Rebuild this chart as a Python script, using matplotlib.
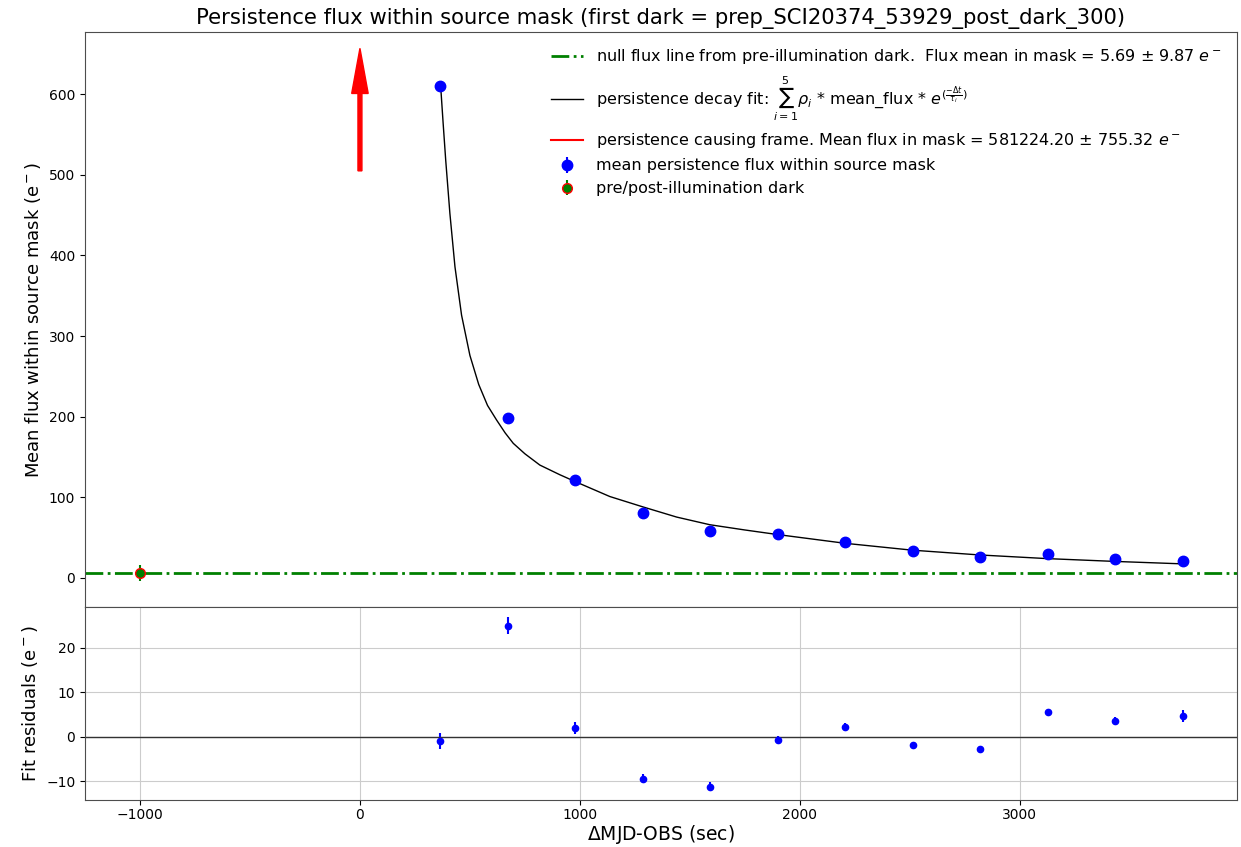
import numpy as np
import matplotlib
matplotlib.use("Agg")
import matplotlib.pyplot as plt

# data
dt = [364, 671, 978, 1285, 1592, 1899, 2206, 2513, 2820, 3127, 3434, 3741]
mean_flux = [610, 199, 121, 81, 58.5, 54, 45, 33, 26, 30, 23.5, 21.5]
flux_err = [1.8, 1.9, 1.4, 1.0, 1.0, 0.8, 0.8, 0.7, 0.7, 0.7, 0.8, 1.3]
residuals = [-1.0, 25.0, 2.0, -9.4, -11.2, -0.7, 2.2, -1.8, -2.7, 5.6, 3.6, 4.7]

# decay fit curve
fit_x = [367, 378, 390, 409, 432, 462, 500, 540, 580, 621, 660, 697, 750, 818,
         909, 979, 1136, 1288, 1440, 1591, 1750, 1894, 2205, 2509, 2818, 3123,
         3432, 3736]
fit_y = [610, 565, 518, 452, 386, 326, 276, 240, 214, 196, 180, 167, 154, 140,
         128, 119.5, 101, 88, 75.5, 66, 59.5, 54, 43, 34.5, 28.5, 24,
         20.5, 17.5]

dark_x = [-1000]
dark_flux = [5.69]
dark_err = [9.87]
null_mean = 5.69
null_std = 9.87
cause_mean = 581224.20
cause_std = 755.32

fig = plt.figure(figsize=(12.41, 8.47), dpi=100)
ax1 = fig.add_axes([0.0685, 0.2834, 0.928, 0.6786])
ax2 = fig.add_axes([0.0685, 0.0555, 0.928, 0.2279], sharex=ax1)

ax1.axhline(null_mean, color="green", ls="-.", lw=2,
            label="null flux line from pre-illumination dark.  Flux mean in mask = "
                  f"{null_mean:.2f} $\\pm$ {null_std:.2f} $e^-$")
ax1.plot(fit_x, fit_y, color="black", lw=1,
         label=r"persistence decay fit: $\sum_{i=1}^{5}\rho_i$ * mean_flux * $e^{(\frac{-\Delta t}{\tau_i})}$")
ax1.plot([], [], color="red",
         label=f"persistence causing frame. Mean flux in mask = {cause_mean:.2f} $\\pm$ {cause_std:.2f} $e^-$")
ax1.errorbar(dt, mean_flux, yerr=flux_err, fmt="o", color="blue", ms=7.5,
             label="mean persistence flux within source mask")
ax1.errorbar(dark_x, dark_flux, yerr=dark_err, fmt="o", color="green", mfc="green",
             mec="red", ecolor="green", ms=7,
             label="pre/post-illumination dark")
ax1.arrow(0, 505, 0, 96, width=18, head_width=75, head_length=56,
          color="red", length_includes_head=False)

ax1.set_xlim(-1250, 3986)
ax1.set_ylim(-36, 677)
ax1.set_ylabel("Mean flux within source mask (e$^-$)", fontsize=13)
ax1.set_title("Persistence flux within source mask (first dark = prep_SCI20374_53929_post_dark_300)",
              fontsize=15.2)
ax1.tick_params(labelbottom=False, bottom=False, labelsize=10)
ax1.legend(loc="upper right", frameon=False, fontsize=11.5, borderaxespad=0.55)

ax2.errorbar(dt, residuals, yerr=flux_err, fmt="o", color="blue", ms=4.5)
ax2.axhline(0, color="0.2", lw=1)
ax2.set_ylim(-14.2, 29.2)
ax2.set_yticks([-10, 0, 10, 20])
ax2.set_xticks([-1000, 0, 1000, 2000, 3000])
ax2.grid(True, color="0.8")
ax2.set_ylabel("Fit residuals (e$^-$)", fontsize=13)
ax2.set_xlabel(r"$\Delta$MJD-OBS (sec)", fontsize=13.5, labelpad=1)
ax2.tick_params(labelsize=10)
ax2.tick_params(axis="x", pad=2)

for ax in (ax1, ax2):
    for s in ax.spines.values():
        s.set_color("0.3")

fig.savefig("out.png", dpi=100)
